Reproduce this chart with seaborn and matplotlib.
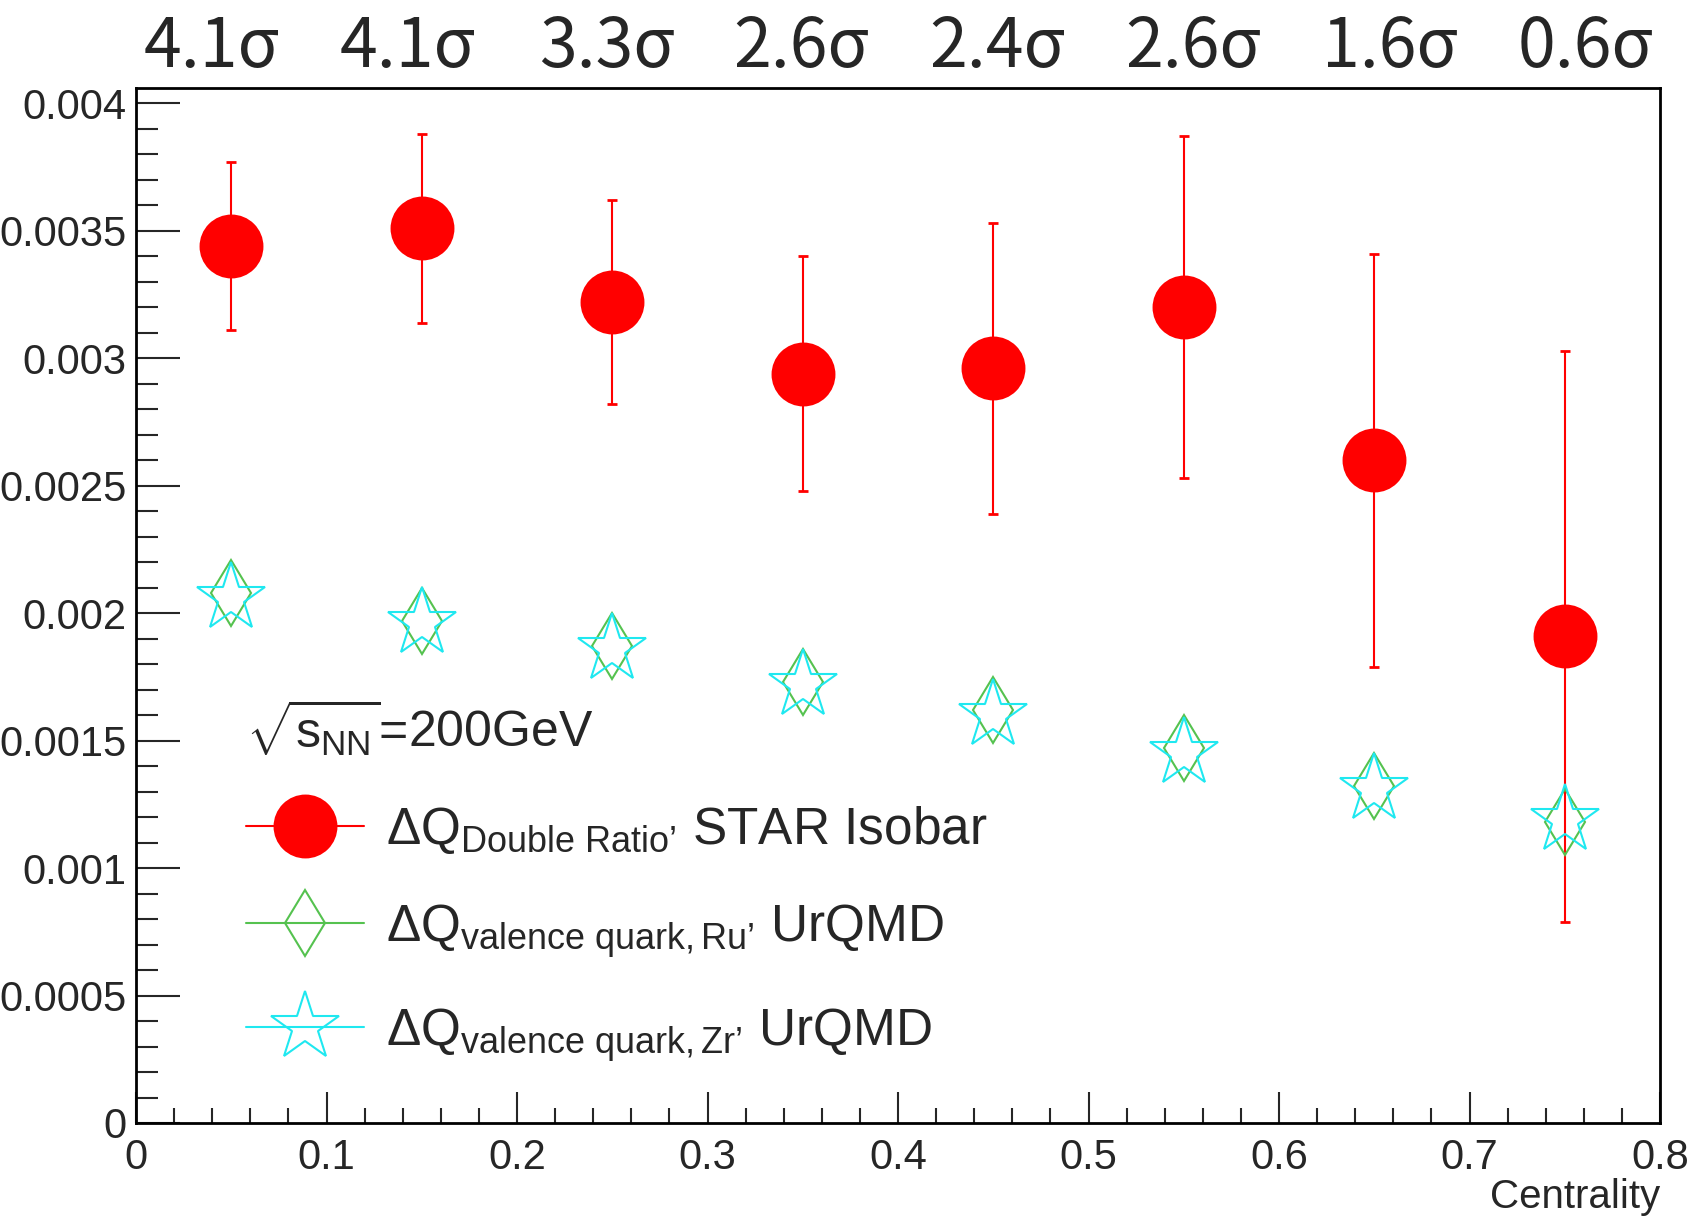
import matplotlib
matplotlib.use("Agg")
import matplotlib.pyplot as plt
from matplotlib.lines import Line2D
from matplotlib.ticker import MultipleLocator, FuncFormatter
import numpy as np
import pandas as pd
import seaborn as sns

# Centrality bins (bin centres)
centrality = [0.05, 0.15, 0.25, 0.35, 0.45, 0.55, 0.65, 0.75]

# STAR isobar double ratio and its uncertainty
dq_star = [0.00344, 0.00351, 0.00322, 0.00294, 0.00296, 0.00320, 0.00260, 0.00191]
dq_star_err = [0.00033, 0.00037, 0.00040, 0.00046, 0.00057, 0.00067, 0.00081, 0.00112]

# UrQMD valence-quark estimates
dq_ru = [0.00208, 0.00197, 0.00187, 0.00173, 0.00162, 0.00147, 0.00132, 0.00118]
dq_zr = [0.00206, 0.00196, 0.00186, 0.00172, 0.00160, 0.00145, 0.00131, 0.00119]

# Significance quoted above each centrality bin
significance = ["4.1σ", "4.1σ", "3.3σ", "2.6σ", "2.4σ", "2.6σ", "1.6σ", "0.6σ"]

RED = "#ff0000"
GREEN = "#55c24f"
CYAN = "#1fe8f0"

sns.set_style("white")
plt.rcParams["font.family"] = ["Liberation Sans", "DejaVu Sans"]
plt.rcParams["mathtext.fontset"] = "custom"
plt.rcParams["mathtext.rm"] = "Liberation Sans"
plt.rcParams["mathtext.it"] = "Liberation Sans:italic"
plt.rcParams["mathtext.bf"] = "Liberation Sans:bold"
plt.rcParams["mathtext.sf"] = "Liberation Sans"

df = pd.DataFrame({
    "centrality": centrality,
    "star": dq_star,
    "err": dq_star_err,
    "ru": dq_ru,
    "zr": dq_zr,
})

fig = plt.figure(figsize=(16.91, 12.18), dpi=100)
ax = fig.add_axes([136 / 1691, 1 - 1123 / 1218, (1660 - 136) / 1691, (1123 - 88) / 1218])

# Error bars of the measurement
ax.errorbar(df["centrality"], df["star"], yerr=df["err"], fmt="none",
            ecolor=RED, elinewidth=1.5, capsize=3.6, capthick=2.0, zorder=2)

# Measured points
sns.lineplot(data=df, x="centrality", y="star", ax=ax, linestyle="", marker="o",
             markersize=46, color=RED, markerfacecolor=RED, markeredgecolor=RED,
             markeredgewidth=0, sort=False, errorbar=None, zorder=3)

# UrQMD Ru (open thin diamond)
sns.lineplot(data=df, x="centrality", y="ru", ax=ax, linestyle="", marker="d",
             markersize=34, color=GREEN, markerfacecolor="none", markeredgecolor=GREEN,
             markeredgewidth=1.5, sort=False, errorbar=None, zorder=4)

# UrQMD Zr (open star)
sns.lineplot(data=df, x="centrality", y="zr", ax=ax, linestyle="", marker="*",
             markersize=52, color=CYAN, markerfacecolor="none", markeredgecolor=CYAN,
             markeredgewidth=1.5, sort=False, errorbar=None, zorder=5)

ax.set_xlim(0, 0.8)
ax.set_ylim(0, 0.00406)

ax.xaxis.set_major_locator(MultipleLocator(0.1))
ax.xaxis.set_minor_locator(MultipleLocator(0.02))
ax.yaxis.set_major_locator(MultipleLocator(0.0005))
ax.yaxis.set_minor_locator(MultipleLocator(0.0001))
fmt = FuncFormatter(lambda v, pos: f"{v:g}")
ax.xaxis.set_major_formatter(fmt)
ax.yaxis.set_major_formatter(fmt)

ax.tick_params(axis="x", which="major", direction="in", length=22, width=1.5,
               labelsize=30, pad=11, bottom=True, top=False)
ax.tick_params(axis="x", which="minor", direction="in", length=10.5, width=1.5,
               bottom=True, top=False)
ax.tick_params(axis="y", which="major", direction="in", length=32, width=1.5,
               labelsize=30, pad=7, left=True, right=False)
ax.tick_params(axis="y", which="minor", direction="in", length=16, width=1.5,
               left=True, right=False)
for sp in ax.spines.values():
    sp.set_visible(True)
    sp.set_linewidth(2)
    sp.set_color("black")

ax.set_xlabel("Centrality", fontsize=29, loc="right", labelpad=0)
ax.set_ylabel("")

# Legend
handles = [
    Line2D([], [], color=RED, lw=1.5, marker="o", markersize=46,
           markerfacecolor=RED, markeredgewidth=0),
    Line2D([], [], color=GREEN, lw=1.5, marker="d", markersize=34,
           markerfacecolor="none", markeredgecolor=GREEN, markeredgewidth=1.5),
    Line2D([], [], color=CYAN, lw=1.5, marker="*", markersize=52,
           markerfacecolor="none", markeredgecolor=CYAN, markeredgewidth=1.5),
]
labels = [
    "ΔQ$_{\\mathrm{Double\\ Ratio’}}$ STAR Isobar",
    "ΔQ$_{\\mathrm{valence\\ quark,Ru’}}$ UrQMD",
    "ΔQ$_{\\mathrm{valence\\ quark,Zr’}}$ UrQMD",
]
leg = ax.legend(handles, labels, title="$\\sqrt{\\mathrm{s}_{\\mathrm{NN}}}$=200GeV",
                loc="upper left", bbox_to_anchor=(0.072, 0.4115),
                frameon=False, fontsize=37, title_fontsize=36,
                handlelength=2.3, handletextpad=0.42, labelspacing=0.9,
                borderpad=0, borderaxespad=0, alignment="left")

# Significance labels above the frame
label_x = [211.9, 407.1, 606.6, 800.7, 997.5, 1192.7, 1389.5, 1585.2]
for xp, s in zip(label_x, significance):
    fig.text(xp / 1691, 1 - 67 / 1218, s, ha="center", va="baseline",
             fontsize=49, family=["Noto Sans CJK SC", "DejaVu Sans"])

fig.savefig("out.png", dpi=100, facecolor="white")
